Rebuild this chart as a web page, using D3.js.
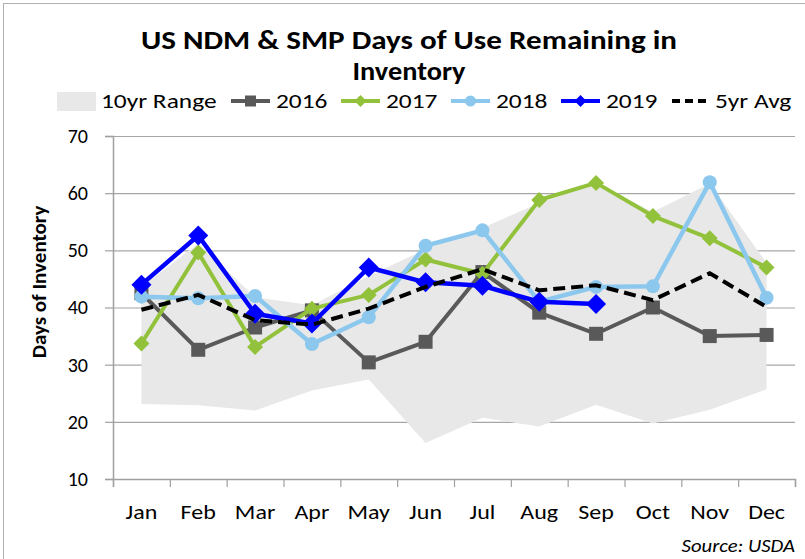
<!DOCTYPE html>
<html>
<head>
<meta charset="utf-8">
<script src="https://cdn.jsdelivr.net/npm/d3@7"></script>
<style>
body { margin: 0; background: #fff; }
svg { display: block; font-family: Carlito, Lato, "Liberation Sans", sans-serif; }
</style>
</head>
<body>
<svg width="805" height="559"></svg>
<script>
// values
var months = ["Jan", "Feb", "Mar", "Apr", "May", "Jun", "Jul", "Aug", "Sep", "Oct", "Nov", "Dec"];
var rangeLow  = [23.1, 22.9, 22.0, 25.5, 27.4, 16.3, 20.7, 19.2, 23.0, 19.7, 22.1, 25.7];
var rangeHigh = [43.6, 51.2, 41.8, 40.4, 45.5, 50.2, 53.9, 58.3, 61.7, 56.7, 61.7, 47.8];
var y2016 = [42.5, 32.6, 36.5, 39.5, 30.4, 34.0, 46.2, 39.1, 35.4, 40.0, 35.0, 35.2];
var y2017 = [33.7, 49.6, 33.1, 39.8, 42.2, 48.4, 45.9, 58.8, 61.8, 56.0, 52.1, 47.0];
var y2018 = [41.9, 41.6, 42.0, 33.6, 38.3, 50.8, 53.5, 41.0, 43.6, 43.7, 61.9, 41.7];
var y2019 = [44.0, 52.6, 38.9, 37.2, 47.0, 44.4, 43.8, 41.0, 40.6];
var avg5yr = [39.6, 42.2, 37.8, 37.0, 39.8, 43.6, 46.7, 43.0, 43.9, 41.3, 46.0, 40.1];
var yTicks = [10, 20, 30, 40, 50, 60, 70];

var svg = d3.select("svg");
var plotL = 113, plotR = 795, plotT = 136, plotB = 479;

var x = d3.scaleBand().domain(months).range([plotL, plotR]);
var y = d3.scaleLinear().domain([10, 70]).range([plotB, plotT]);
var cx = function(i) { return x(months[i]) + x.bandwidth() / 2; };

// widen text a little (the original is drawn in a wide Calibri-like face)
function stretch(sel, k) {
	sel.each(function() {
		var w = this.getComputedTextLength();
		d3.select(this).attr("textLength", w * k).attr("lengthAdjust", "spacingAndGlyphs");
	});
}

// outer chart border
svg.append("rect")
	.attr("x", 3.5).attr("y", 3.5).attr("width", 820).attr("height", 580)
	.attr("fill", "none").attr("stroke", "#b0b0b0");

// title
svg.append("text").attr("x", 409).attr("y", 49).attr("text-anchor", "middle")
	.attr("font-size", 26).attr("font-weight", "bold")
	.attr("textLength", 536).attr("lengthAdjust", "spacingAndGlyphs")
	.text("US NDM & SMP Days of Use Remaining in");
svg.append("text").attr("x", 409).attr("y", 80).attr("text-anchor", "middle")
	.attr("font-size", 26).attr("font-weight", "bold")
	.attr("textLength", 113).attr("lengthAdjust", "spacingAndGlyphs")
	.text("Inventory");

// gridlines
svg.append("g")
	.attr("transform", "translate(" + plotL + ",0)")
	.call(d3.axisLeft(y).tickValues(yTicks).tickSize(-(plotR - plotL)).tickFormat(""))
	.call(function(g) {
		g.select(".domain").remove();
		g.selectAll("line").attr("stroke", "#a6a6a6").attr("stroke-width", 1.2);
	});

// 10yr range
var area = d3.area()
	.x(function(d, i) { return cx(i); })
	.y0(function(d, i) { return y(rangeLow[i]); })
	.y1(function(d) { return y(d); });
svg.append("path").datum(rangeHigh).attr("d", area).attr("fill", "#e8e8e8");

// axes
svg.append("g")
	.attr("transform", "translate(" + plotL + ",0)")
	.call(d3.axisLeft(y).tickValues(yTicks).tickSize(8).tickPadding(17))
	.call(function(g) {
		g.select(".domain").attr("stroke", "#a0a0a0").attr("stroke-width", 1.5);
		g.selectAll("line").attr("stroke", "#a0a0a0").attr("stroke-width", 1.2);
		g.selectAll("text").attr("font-size", 20).attr("fill", "#000")
			.attr("font-family", "Carlito, Lato, sans-serif");
	});

var xb = d3.scaleLinear().domain([0, months.length]).range([plotL, plotR]);
svg.append("g")
	.attr("transform", "translate(0," + plotB + ")")
	.call(d3.axisBottom(xb).ticks(months.length).tickSize(8).tickFormat(""))
	.call(function(g) {
		g.select(".domain").attr("stroke", "#a0a0a0").attr("stroke-width", 1.5);
		g.selectAll("line").attr("stroke", "#a0a0a0").attr("stroke-width", 1.2);
	});

svg.append("g").selectAll("text")
	.data(months).enter().append("text")
	.attr("x", function(d, i) { return cx(i); })
	.attr("y", 519)
	.attr("text-anchor", "middle")
	.attr("font-size", 20)
	.text(function(d) { return d; })
	.call(stretch, 1.2);

svg.append("text")
	.attr("transform", "translate(46,282) rotate(-90)")
	.attr("text-anchor", "middle")
	.attr("font-size", 21).attr("font-weight", "bold")
	.text("Days of Inventory");

svg.append("text")
	.attr("x", 795).attr("y", 552).attr("text-anchor", "end")
	.attr("font-size", 19).attr("font-style", "italic")
	.text("Source: USDA")
	.call(stretch, 1.09);

// series
var series = [
	{ name: "2016", values: y2016, color: "#595959", width: 4, marker: "square", size: 7 },
	{ name: "2017", values: y2017, color: "#92c13b", width: 4, marker: "diamond", size: 8 },
	{ name: "2018", values: y2018, color: "#8cc8ee", width: 4.5, marker: "circle", size: 7 },
	{ name: "2019", values: y2019, color: "#0000ff", width: 4.5, marker: "diamond", size: 10 }
];

function markerPath(type, s) {
	if (type === "square") return "M" + (-s) + "," + (-s) + "h" + 2 * s + "v" + 2 * s + "h" + (-2 * s) + "Z";
	if (type === "diamond") return "M0," + (-s) + "L" + s + ",0L0," + s + "L" + (-s) + ",0Z";
	return d3.symbol(d3.symbolCircle, Math.PI * s * s)();
}

var line = d3.line()
	.x(function(d, i) { return cx(i); })
	.y(function(d) { return y(d); });

series.forEach(function(s) {
	var g = svg.append("g");
	g.append("path").datum(s.values).attr("d", line)
		.attr("fill", "none").attr("stroke", s.color).attr("stroke-width", s.width)
		.attr("stroke-linejoin", "round");
	g.selectAll("path.m").data(s.values).enter().append("path")
		.attr("class", "m")
		.attr("transform", function(d, i) { return "translate(" + cx(i) + "," + y(d) + ")"; })
		.attr("d", markerPath(s.marker, s.size))
		.attr("fill", s.color);
});

svg.append("path").datum(avg5yr).attr("d", line)
	.attr("fill", "none").attr("stroke", "#000").attr("stroke-width", 4)
	.attr("stroke-dasharray", "12,6");

// legend
var legendY = 101;
var lg = svg.append("g").attr("font-size", 20);
lg.append("rect").attr("x", 57).attr("y", legendY - 9).attr("width", 39).attr("height", 19).attr("fill", "#e8e8e8");
lg.append("text").attr("x", 101).attr("y", legendY).attr("dy", "0.35em").text("10yr Range");

var legendX = [231, 341, 451, 561];
series.forEach(function(s, i) {
	var x0 = legendX[i];
	lg.append("line").attr("x1", x0).attr("x2", x0 + 39).attr("y1", legendY).attr("y2", legendY)
		.attr("stroke", s.color).attr("stroke-width", 4);
	lg.append("path").attr("transform", "translate(" + (x0 + 19.5) + "," + legendY + ")")
		.attr("d", markerPath(s.marker, s.marker === "diamond" ? 6 : 5.5)).attr("fill", s.color);
	lg.append("text").attr("x", x0 + 45).attr("y", legendY).attr("dy", "0.35em").text(s.name);
});
lg.append("line").attr("x1", 672).attr("x2", 710).attr("y1", legendY).attr("y2", legendY)
	.attr("stroke", "#000").attr("stroke-width", 4).attr("stroke-dasharray", "8,5");
lg.append("text").attr("x", 715).attr("y", legendY).attr("dy", "0.35em").text("5yr Avg");
lg.selectAll("text").call(stretch, 1.27);
</script>
</body>
</html>
